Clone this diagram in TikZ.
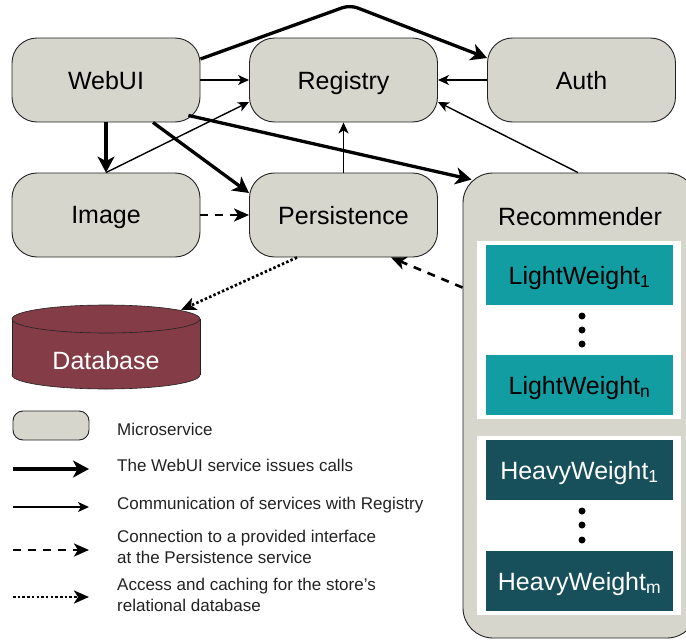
\documentclass[tikz,border=0pt]{standalone}
\usepackage{fontspec}
\setmainfont{Liberation Sans}
\usetikzlibrary{arrows.meta,calc}
\definecolor{msgray}{HTML}{D6D6CD}
\definecolor{dbred}{HTML}{843C47}
\definecolor{lwteal}{HTML}{129DA3}
\definecolor{hwteal}{HTML}{17505B}
\definecolor{edge}{HTML}{222222}
\tikzset{
  svc/.style={draw=edge, line width=0.9pt, fill=msgray, rounded corners=25pt,
    minimum width=188pt, minimum height=84pt, inner sep=0pt, text depth=0pt,
    font=\fontsize{25}{29}\selectfont},
  wbox/.style={fill=lwteal, minimum width=187pt, minimum height=60pt, inner sep=0pt,
    text depth=0pt, font=\fontsize{25}{29}\selectfont},
  hbox/.style={wbox, fill=hwteal, text=white},
  panel/.style={fill=white, minimum width=204pt, inner sep=0pt},
  callarrow/.style={draw=black, line width=3.3pt, line join=round,
    -{Stealth[length=16pt,width=17pt,inset=4.5pt]}},
  regarrow/.style={draw=black, line width=1.4pt,
    -{Stealth[length=11pt,width=10pt,inset=3pt]}},
  ifacearrow/.style={draw=black, line width=2.6pt, dash pattern=on 8pt off 7pt,
    -{Stealth[length=15pt,width=13pt,inset=4pt]}},
  dbarrow/.style={draw=black, line width=2.7pt, dash pattern=on 2.5pt off 2.2pt,
    -{Stealth[length=15pt,width=13pt,inset=4pt]}},
  legtext/.style={anchor=west, align=left, inner sep=0pt,
    font=\fontsize{17}{21}\selectfont, text=edge},
  dotmark/.style={circle, fill=black, minimum size=7pt, inner sep=0pt}
}
\begin{document}
\begin{tikzpicture}[x=1pt,y=-1pt]
\useasboundingbox (0,0) rectangle (686,640);
\clip (0,0) rectangle (686,640);

% services
\node[svc] (webui) at (106,80) {WebUI};
\node[svc] (registry) at (343.5,80) {Registry};
\node[svc] (auth) at (581.5,80) {Auth};
\node[svc] (image) at (106,215) {Image};
\node[svc] (pers) at (343.5,215) {Persistence};

% recommender
\node[svc, rounded corners=30pt, minimum width=234pt, minimum height=465pt] (rec) at (580,405.5) {};
\node[font=\fontsize{25}{29}\selectfont, inner sep=0pt, text depth=0pt] (reclabel) at (580,216.5) {Recommender};
\node[panel, minimum height=178pt] (panelL) at (579,330) {};
\node[panel, minimum height=179pt] (panelH) at (579,525.5) {};
\node[wbox] (lw1) at (579.5,275) {LightWeight\textsubscript{1}};
\node[wbox] (lwn) at (579.5,385) {LightWeight\textsubscript{n}};
\node[hbox] (hw1) at (579.5,470) {HeavyWeight\textsubscript{1}};
\node[hbox] (hwm) at (579.5,581) {HeavyWeight\textsubscript{m}};
\node[dotmark] (d1) at (582,316) {};
\node[dotmark] (d2) at (582,330) {};
\node[dotmark] (d3) at (582,344) {};
\node[dotmark] (d4) at (582,511) {};
\node[dotmark] (d5) at (582,525) {};
\node[dotmark] (d6) at (582,540) {};

% database cylinder
\fill[dbred, draw=edge, line width=0.6pt] (106,375) ellipse [x radius=94pt, y radius=14pt];
\fill[dbred] (12,319) rectangle (200,375);
\draw[edge, line width=0.6pt] (12,319) -- (12,375) (200,319) -- (200,375);
\fill[dbred, draw=edge, line width=0.6pt] (106,319) ellipse [x radius=94pt, y radius=14pt];
\node[text=white, font=\fontsize{25}{29}\selectfont, inner sep=0pt, text depth=0pt] (db) at (106,360) {Database};
\coordinate (dbtop) at (181,310);

% connectors
\draw[callarrow, rounded corners=8pt] ([yshift=21pt]webui.east) -- (350,5) -- ([yshift=22pt]auth.west);
\draw[regarrow] (webui.east) -- (registry.west);
\draw[regarrow] (auth.west) -- (registry.east);
\draw[callarrow] (webui.south) -- (image.north);
\draw[callarrow] ([xshift=47pt]webui.south) -- ([yshift=22pt]pers.west);
\draw[callarrow] ([xshift=-12pt,yshift=7pt]webui.south east) -- ([xshift=9pt,yshift=-7pt]rec.north west);
\draw[regarrow] (image.north) -- ([yshift=-22pt]registry.west);
\draw[regarrow] (pers.north) -- (registry.south);
\draw[regarrow] ([xshift=-2pt]rec.north) -- ([yshift=-22pt]registry.east);
\draw[ifacearrow] (image.east) -- (pers.west);
\draw[ifacearrow] ([yshift=-115pt]rec.north west) -- ([xshift=47.5pt]pers.south);
\draw[dbarrow] ([xshift=-46.5pt]pers.south) -- (dbtop);

% legend
\node[svc, rounded corners=10pt, minimum width=76pt, minimum height=29pt] (legsvc) at (51,425.5) {};
\node[legtext] (lt1) at (117,429) {Microservice};
\node[legtext] (lt2) at (117,465) {The WebUI service issues calls};
\node[legtext] (lt3) at (117,505) {Communication of services with Registry};
\node[legtext] (lt4) at (117,546.5) {Connection to a provided interface\\at the Persistence service};
\node[legtext] (lt5) at (117,594.5) {Access and caching for the store’s\\relational database};
\coordinate (la1) at (13,469); \coordinate (lb1) at (89,469);
\coordinate (la2) at (13,507); \coordinate (lb2) at (89,507);
\coordinate (la3) at (13,550); \coordinate (lb3) at (89,550);
\coordinate (la4) at (13,597); \coordinate (lb4) at (89,597);
\draw[callarrow] (la1) -- (lb1);
\draw[regarrow] (la2) -- (lb2);
\draw[ifacearrow] (la3) -- (lb3);
\draw[dbarrow] (la4) -- (lb4);
\end{tikzpicture}
\end{document}
